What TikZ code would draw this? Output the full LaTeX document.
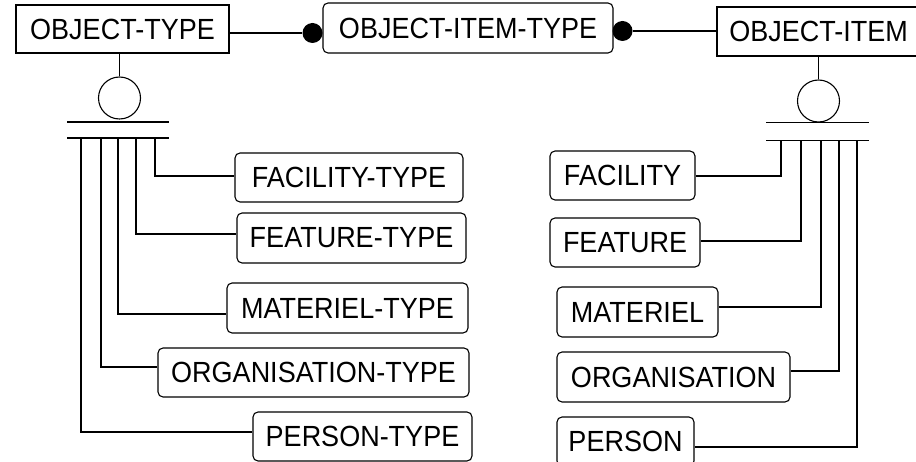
\documentclass[tikz,border=0pt]{standalone}
\usepackage{fontspec}
\setmainfont{Liberation Sans}
\newcommand\talltxt[1]{\scalebox{1}[1.08]{#1}}
\begin{document}
\begin{tikzpicture}[x=1pt,y=-1pt,line width=1.1pt,
  ent/.style={draw,inner sep=0pt,font=\fontsize{27pt}{30pt}\selectfont,align=center},
  rent/.style={ent,rounded corners=5pt},
  bub/.style={circle,draw,inner sep=0pt,minimum size=42pt},
  dotnode/.style={circle,fill=black,inner sep=0pt,minimum size=20pt},
  conn/.style={line width=1.1pt}]
\useasboundingbox (0,0) rectangle (916,462);
% top row
\node[ent,minimum width=213pt,minimum height=48pt] (ot) at (122.5,29) {\talltxt{OBJECT-TYPE}};
\node[rent,minimum width=290pt,minimum height=50pt] (oit) at (468,28) {\talltxt{OBJECT-ITEM-TYPE}};
\node[ent,minimum width=203pt,minimum height=49pt] (oi) at (818.5,31.5) {\talltxt{OBJECT-ITEM}};
\node[dotnode] (d1) at (312.5,33) {};
\node[dotnode] (d2) at (622.5,31) {};
\draw[conn] (ot.east |- d1) -- (d1);
\draw[conn] (d2) -- (oi.west |- d2);
% left subtype structure
\node[bub] (lc) at (119.5,98) {};
\draw[conn] (lc.north |- ot.south) -- (lc.north);
\coordinate (lba) at (67,122);
\coordinate (lbb) at (169,122);
\coordinate (lbc) at (67,138);
\coordinate (lbd) at (169,138);
\draw[conn] (lba) -- (lbb);
\draw[conn] (lbc) -- (lbd);
\coordinate (l1) at (155,138);
\coordinate (l2) at (136,138);
\coordinate (l3) at (118,138);
\coordinate (l4) at (101,138);
\coordinate (l5) at (81,138);
\node[rent,minimum width=228pt,minimum height=49pt] (ft) at (349,177.5) {\talltxt{FACILITY-TYPE}};
\node[rent,minimum width=229pt,minimum height=50pt] (fet) at (351.5,238) {\talltxt{FEATURE-TYPE}};
\node[rent,minimum width=241pt,minimum height=50pt] (mt) at (347.5,308) {\talltxt{MATERIEL-TYPE}};
\node[rent,minimum width=311pt,minimum height=49pt] (ort) at (313.5,372.5) {\talltxt{ORGANISATION-TYPE}};
\node[rent,minimum width=219pt,minimum height=49pt] (pt) at (362.5,436.5) {\talltxt{PERSON-TYPE}};
\draw[conn] (l1) |- ([yshift=1.5pt]ft.west);
\draw[conn] (l2) |- ([yshift=4pt]fet.west);
\draw[conn] (l3) |- ([yshift=-6pt]mt.west);
\draw[conn] (l4) |- ([yshift=5.5pt]ort.west);
\draw[conn] (l5) |- ([yshift=4.5pt]pt.west);
% right subtype structure
\node[bub] (rc) at (818.5,101) {};
\draw[conn] (rc.north |- oi.south) -- (rc.north);
\coordinate (rba) at (766,122.5);
\coordinate (rbb) at (869,122.5);
\coordinate (rbc) at (766,140.5);
\coordinate (rbd) at (869,140.5);
\draw[conn] (rba) -- (rbb);
\draw[conn] (rbc) -- (rbd);
\coordinate (r1) at (781,140.5);
\coordinate (r2) at (801,140.5);
\coordinate (r3) at (821,140.5);
\coordinate (r4) at (839,140.5);
\coordinate (r5) at (857,140.5);
\node[rent,minimum width=145pt,minimum height=49pt] (f) at (622.5,175.5) {\talltxt{FACILITY}};
\node[rent,minimum width=150pt,minimum height=49pt] (fe) at (625,242.5) {\talltxt{FEATURE}};
\node[rent,minimum width=161pt,minimum height=50pt] (m) at (637.5,312) {\talltxt{MATERIEL}};
\node[rent,minimum width=233pt,minimum height=50pt] (or) at (673.5,377) {\talltxt{ORGANISATION}};
\node[rent,minimum width=137pt,minimum height=49pt] (p) at (625.5,441.5) {\talltxt{PERSON}};
\draw[conn] (r1) |- ([yshift=-0.5pt]f.east);
\draw[conn] (r2) |- ([yshift=1.5pt]fe.east);
\draw[conn] (r3) |- ([yshift=5pt]m.east);
\draw[conn] (r4) |- ([yshift=6pt]or.east);
\draw[conn] (r5) |- ([yshift=-5.5pt]p.east);
\end{tikzpicture}
\end{document}
